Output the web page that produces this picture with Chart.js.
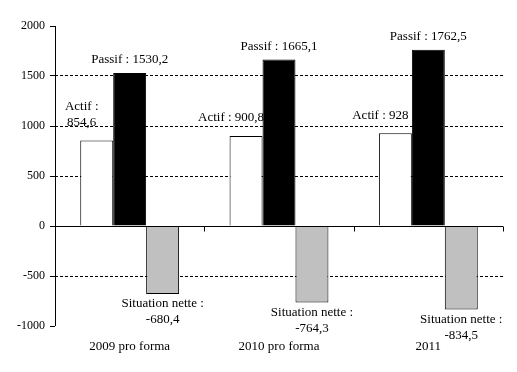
<!DOCTYPE html>
<html>
<head>
<meta charset="utf-8">
<script src="https://cdn.jsdelivr.net/npm/chart.js@4"></script>
<style>
  html, body { margin: 0; padding: 0; background: #fff; }
</style>
</head>
<body>
<canvas id="myChart" width="517" height="372"></canvas>
<script>
const categories = ['2009 pro forma', '2010 pro forma', '2011'];
const actif = [854.6, 900.8, 928];
const passif = [1530.2, 1665.1, 1762.5];
const situationNette = [-680.4, -764.3, -834.5];
const yTicks = [-1000, -500, 0, 500, 1000, 1500, 2000];

const FONT = '"Liberation Serif", "Times New Roman", serif';

function fmt(v) {
    return String(v).replace('.', ',');
}

// labels drawn next to each bar, Excel style
const barLabels = {
    id: 'barLabels',
    afterDatasetsDraw(chart) {
        const ctx = chart.ctx;
        ctx.save();
        ctx.font = '13px ' + FONT;
        ctx.fillStyle = '#000';
        ctx.textAlign = 'center';
        ctx.textBaseline = 'middle';
        chart.data.datasets.forEach((ds, di) => {
            chart.getDatasetMeta(di).data.forEach((bar, i) => {
                const v = ds.data[i];
                let lines, y;
                let x = bar.x;
                if (di === 0) {
                    x -= 15;
                    if (i === 0) {
                        lines = [ds.label + ' :', fmt(v)];
                        y = bar.y - 34;
                    } else {
                        lines = [ds.label + ' : ' + fmt(v)];
                        y = bar.y - 18;
                    }
                } else if (di === 1) {
                    lines = [ds.label + ' : ' + fmt(v)];
                    y = bar.y - 13;
                } else {
                    lines = [ds.label + ' :', fmt(v)];
                    y = bar.y + 10;
                }
                lines.forEach((t, k) => ctx.fillText(t, x, y + k * 16));
            });
        });
        ctx.restore();
    }
};

// solid y axis line, zero line and small ticks between categories
const axisLines = {
    id: 'axisLines',
    afterDatasetsDraw(chart) {
        const ctx = chart.ctx;
        const xs = chart.scales.x;
        const area = chart.chartArea;
        const y0 = Math.round(chart.scales.y.getPixelForValue(0)) + 0.5;
        const xl = Math.round(area.left) + 0.5;
        ctx.save();
        ctx.strokeStyle = '#000';
        ctx.lineWidth = 1;
        ctx.beginPath();
        ctx.moveTo(xl, area.top);
        ctx.lineTo(xl, area.bottom);
        ctx.moveTo(area.left, y0);
        ctx.lineTo(area.right, y0);
        for (let i = 1; i <= categories.length; i++) {
            const x = Math.round(xs.getPixelForValue(i - 0.5)) + 0.5;
            ctx.moveTo(x, y0);
            ctx.lineTo(x, y0 + 5);
        }
        ctx.stroke();
        ctx.restore();
    }
};

Chart.defaults.color = '#000';
Chart.defaults.font.family = FONT;

new Chart(document.getElementById('myChart').getContext('2d'), {
    type: 'bar',
    data: {
        labels: categories,
        datasets: [{
            label: 'Actif',
            data: actif,
            backgroundColor: '#ffffff',
            borderColor: '#000',
            borderWidth: 1
        }, {
            label: 'Passif',
            data: passif,
            backgroundColor: '#000000',
            borderColor: '#000',
            borderWidth: 1
        }, {
            label: 'Situation nette',
            data: situationNette,
            backgroundColor: '#c0c0c0',
            borderColor: '#000',
            borderWidth: 1
        }]
    },
    options: {
        responsive: false,
        animation: false,
        categoryPercentage: 0.662,
        barPercentage: 1,
        layout: {
            padding: { top: 26, right: 14, left: 0, bottom: 0 }
        },
        plugins: {
            legend: { display: false },
            tooltip: { enabled: false }
        },
        scales: {
            y: {
                min: -1000,
                max: 2000,
                afterBuildTicks(scale) {
                    scale.ticks = yTicks.map(v => ({ value: v }));
                },
                afterFit(scale) { scale.width = 55; },
                ticks: {
                    font: { size: 12 },
                    color: '#000',
                    padding: 5,
                    callback: v => String(v)
                },
                grid: {
                    color: c => (c.tick && [500, 1000, 1500, -500].includes(c.tick.value)) ? '#000' : 'rgba(0,0,0,0)',
                    tickColor: '#000',
                    tickLength: 5,
                    tickBorderDash: [],
                    lineWidth: 1
                },
                border: {
                    display: false,
                    dash: [3, 2]
                }
            },
            x: {
                afterFit(scale) { scale.height = 46; },
                ticks: {
                    font: { size: 13 },
                    color: '#000',
                    padding: 13
                },
                grid: { display: false, drawTicks: false },
                border: { display: false }
            }
        }
    },
    plugins: [barLabels, axisLines]
});
</script>
</body>
</html>
